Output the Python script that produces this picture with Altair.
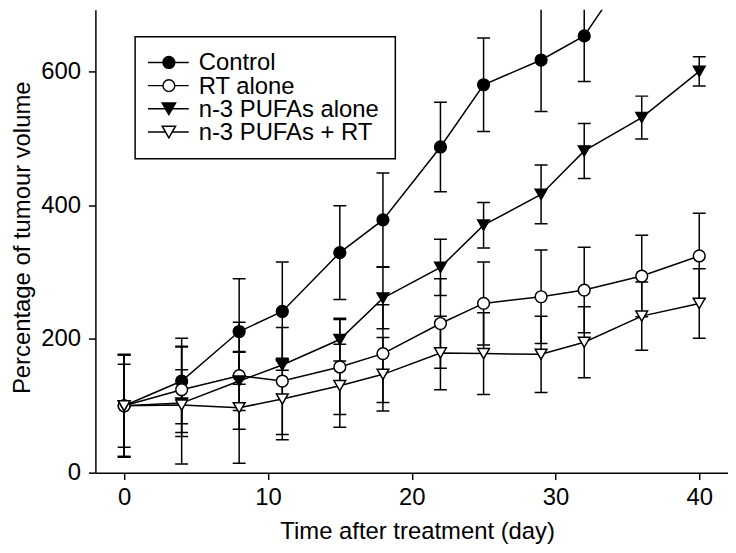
import altair as alt
import pandas as pd

# ---- data ----
days = [0, 4, 8, 11, 15, 18, 22, 25, 29, 32, 36, 40]
series_names = ["Control", "RT alone", "n-3 PUFAs alone", "n-3 PUFAs + RT"]

control = [100, 137, 211, 241, 329, 378, 487, 580, 617, 653, 780]
control_err = [76, 64, 79, 74, 70, 70, 67, 70, 77, 68, 70]

rt_alone = [100, 124, 145, 137, 158, 178, 223, 253, 263, 273, 294, 324]
rt_alone_err = [62, 64, 80, 80, 71, 73, 67, 62, 70, 64, 61, 64]

pufa_alone = [100, 104, 137, 161, 199, 261, 307, 370, 416, 481, 531, 600]
pufa_alone_err = [76, 50, 44, 8, 32, 46, 42, 34, 44, 41, 32, 22]

pufa_rt = [100, 101, 97, 110, 130, 147, 179, 178, 177, 195, 234, 253]
pufa_rt_err = [77, 88, 83, 61, 62, 55, 55, 61, 57, 53, 51, 52]

x_ticks = [0, 10, 20, 30, 40]
y_ticks = [0, 200, 400, 600]

shapes = ["circle", "circle", "triangle-down", "triangle-down"]
fills = ["black", "white", "black", "white"]
sizes = [140, 140, 180, 180]

rows = []
for name, vals, errs in zip(series_names,
                            [control, rt_alone, pufa_alone, pufa_rt],
                            [control_err, rt_alone_err, pufa_alone_err, pufa_rt_err]):
    for d, v, e in zip(days, vals, errs):
        rows.append({"series": name, "day": d, "value": v, "lo": v - e, "hi": v + e})
df = pd.DataFrame(rows)

FONT = "Liberation Sans"
FS = 24

xscale = alt.Scale(domain=[-2, 42], nice=False, zero=False)
yscale = alt.Scale(domain=[0, 692], nice=False, zero=False)

x_axis = alt.Axis(values=x_ticks, title="Time after treatment (day)", grid=False,
                  domainColor="black", domainWidth=1.5, tickColor="black", tickWidth=1.5,
                  tickSize=7, labelFont=FONT, labelFontSize=FS, labelColor="black",
                  labelPadding=6, labelFlush=False, titleFont=FONT, titleFontSize=FS,
                  titleFontWeight="normal", titleColor="black", titleX=324, titleY=66,
                  titleAlign="center", titleBaseline="alphabetic")
y_axis = alt.Axis(values=y_ticks, title="Percentage of tumour volume", grid=False,
                  domainColor="black", domainWidth=1.5, tickColor="black", tickWidth=1.5,
                  tickSize=7, labelFont=FONT, labelFontSize=FS, labelColor="black",
                  labelPadding=8, labelFlush=False, titleFont=FONT, titleFontSize=FS,
                  titleFontWeight="normal", titleColor="black", titleX=-66, titleY=229,
                  titleAngle=270, titleAlign="center", titleBaseline="alphabetic")

X = alt.X("day:Q", scale=xscale, axis=x_axis)

def Y(field):
    return alt.Y(field, scale=yscale, axis=y_axis)

base = alt.Chart(df)

bars = base.mark_rule(color="black", strokeWidth=1.5, clip=True).encode(
    x=X, y=Y("lo:Q"), y2="hi:Q")
caps_lo = base.mark_tick(color="black", orient="horizontal", size=13, thickness=1.5,
                         opacity=1, clip=True).encode(x=X, y=Y("lo:Q"))
caps_hi = base.mark_tick(color="black", orient="horizontal", size=13, thickness=1.5,
                         opacity=1, clip=True).encode(x=X, y=Y("hi:Q"))
lines = base.mark_line(color="black", strokeWidth=1.5, clip=True).encode(
    x=X, y=Y("value:Q"), detail="series:N", order="day:Q")
points = base.mark_point(filled=True, stroke="black", strokeWidth=1.5, opacity=1,
                         clip=True).encode(
    x=X, y=Y("value:Q"),
    shape=alt.Shape("series:N", scale=alt.Scale(domain=series_names, range=shapes), legend=None),
    fill=alt.Fill("series:N", scale=alt.Scale(domain=series_names, range=fills), legend=None),
    size=alt.Size("series:N", scale=alt.Scale(domain=series_names, range=sizes), legend=None),
)

# ---- hand-drawn legend box ----
box_df = pd.DataFrame({"k": [0]})
box = alt.Chart(box_df).mark_rect(fill="white", stroke="black", strokeWidth=1.5).encode(
    x=alt.value(40), x2=alt.value(302), y=alt.value(27), y2=alt.value(150))

legend_layers = []
row_y = [53, 76.3, 99.6, 123]
for i, name in enumerate(series_names):
    ldf = pd.DataFrame({"label": [name]})
    lc = alt.Chart(ldf)
    ry = row_y[i]
    legend_layers.append(lc.mark_rule(color="black", strokeWidth=1.5).encode(
        x=alt.value(53), x2=alt.value(94), y=alt.value(ry)))
    legend_layers.append(lc.mark_point(filled=True, stroke="black", strokeWidth=1.5,
                                       opacity=1).encode(
        x=alt.value(74), y=alt.value(ry), shape=alt.value(shapes[i]),
        fill=alt.value(fills[i]), size=alt.value(sizes[i])))
    legend_layers.append(lc.mark_text(font=FONT, fontSize=FS, color="black", align="left",
                                      baseline="alphabetic").encode(
        x=alt.value(104), y=alt.value(ry + 8), text="label:N"))

chart = alt.layer(bars, caps_lo, caps_hi, lines, points, box, *legend_layers).properties(
    width=637, height=466,
    autosize=alt.AutoSizeParams(type="none"),
    padding={"left": 88, "top": 0, "right": 0, "bottom": 71},
).configure_view(stroke=None)

chart.save("out.html", embed_options={"renderer": "svg", "actions": False})
